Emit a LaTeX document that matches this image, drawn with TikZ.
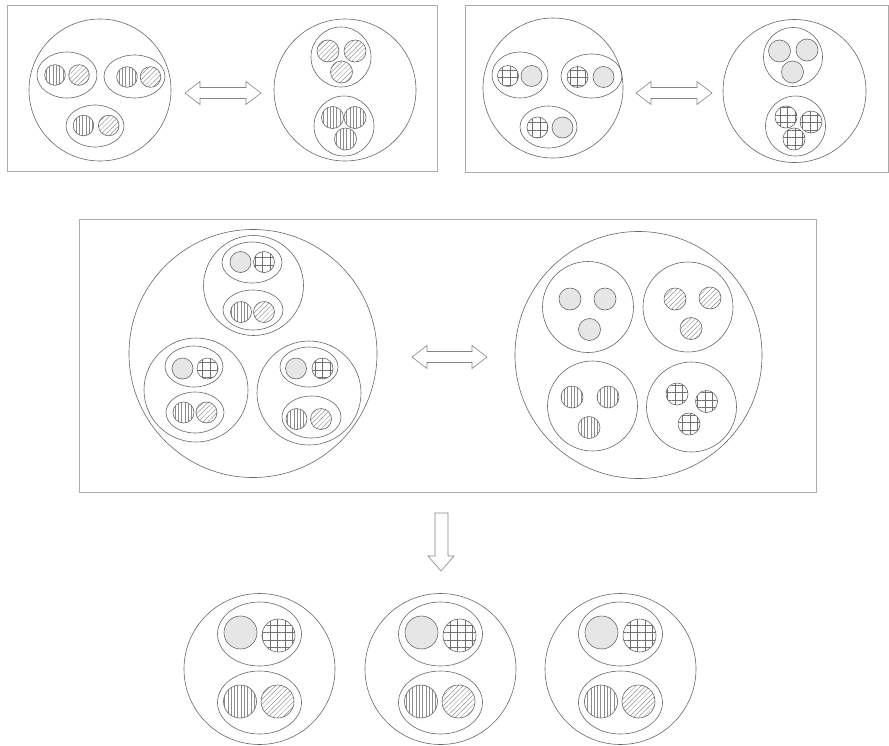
\documentclass[tikz,border=0pt]{standalone}
\usetikzlibrary{patterns.meta}

\definecolor{linecol}{HTML}{666666}
\definecolor{framecol}{HTML}{AAAAAA}
\definecolor{fillgray}{HTML}{E6E6E6}
\definecolor{patcol}{HTML}{707070}

\tikzset{
  ring/.style={draw=linecol, line width=0.6pt},
  frame/.style={draw=framecol, line width=1pt},
  blockarrow/.style={draw=linecol!80, line width=0.6pt, fill=white, line join=miter},
  gry/.style={ring, fill=fillgray},
  vln/.style={ring, pattern={Lines[angle=90, distance=3.3pt, line width=0.3pt]}, pattern color=patcol!80},
  dgl/.style={ring, pattern={Lines[angle=45, distance=3.4pt, line width=0.3pt]}, pattern color=patcol},
  grd/.style={ring, pattern={Hatch[angle=0, distance=7.5pt, line width=0.45pt]}, pattern color=patcol},
}

% double block arrow: x from #1 to #2 at height #3
\newcommand{\dblarrow}[3]{%
  \draw[blockarrow] (#1,#3) -- (#1+15,#3-11.5) -- (#1+15,#3-5.5) -- (#2-15,#3-5.5)
    -- (#2-15,#3-11.5) -- (#2,#3) -- (#2-15,#3+11.5) -- (#2-15,#3+5.5)
    -- (#1+15,#3+5.5) -- (#1+15,#3+11.5) -- cycle;}

\begin{document}
\begin{tikzpicture}[x=1pt, y=-1pt]
  \useasboundingbox (0,0) rectangle (889,745);

  % Верхний левый блок
  \draw[frame] (7,5) rectangle (437,171);
  \draw[ring] (100,90) circle (71);
  \draw[ring] (67,75) ellipse (30 and 23);
  \draw[ring] (134.5,76.5) ellipse (30.5 and 21.5);
  \draw[ring] (95,126) ellipse (29 and 21);
  \foreach \x/\y/\d in {55/75/79, 127/77/150.5, 83.5/125.5/108.7} {
    \draw[vln] (\x,\y) circle (10.3);
    \draw[dgl] (\d,\y) circle (10.3);
  }
  \dblarrow{185}{261}{93}
  \draw[ring] (345,90) circle (71);
  \draw[ring] (341,57) circle (30);
  \draw[ring] (344,126) circle (30);
  \foreach \x/\y in {328/51, 355/51, 341.5/72}
    \draw[dgl] (\x,\y) circle (11);
  \foreach \x/\y in {332.5/117.5, 355/117.5, 345.5/139}
    \draw[vln] (\x,\y) circle (11);

  % Верхний правый блок
  \draw[frame] (465,5) rectangle (888,172);
  \draw[ring] (553,88) circle (70);
  \draw[ring] (520,75) ellipse (28 and 23);
  \draw[ring] (591.5,76) ellipse (30.5 and 22);
  \draw[ring] (548.5,127) ellipse (28.5 and 21);
  \foreach \x/\y/\g in {508/76/531.5, 577.5/77/603.5, 537.5/127.5/562.5} {
    \draw[grd] (\x,\y) circle (10.5);
    \draw[gry] (\g,\y) circle (10.5);
  }
  \dblarrow{636}{712}{93}
  \draw[ring] (794.5,91) circle (71.5);
  \draw[ring] (793,57) circle (29.5);
  \draw[ring] (795.5,126) circle (30);
  \foreach \x/\y in {779.5/51, 807/50, 792.5/72}
    \draw[gry] (\x,\y) circle (11);
  \foreach \x/\y in {786/117, 811/122, 794/139}
    \draw[grd] (\x,\y) circle (11);

  % Средний блок
  \draw[frame] (79,219) rectangle (816,492);
  \draw[ring] (253,353.5) circle (124);
  \draw[ring] (253.5,285.5) circle (50);
  \draw[ring] (196,390) circle (52);
  \draw[ring] (309,393) circle (52);
  \draw[ring] (252,262.5) ellipse (30 and 20.5);
  \draw[ring] (253,310) ellipse (30 and 20);
  \draw[ring] (194,366.5) ellipse (29 and 20.5);
  \draw[ring] (195,412.5) ellipse (29 and 20.5);
  \draw[ring] (309,367) ellipse (29 and 20);
  \draw[ring] (311.5,417) ellipse (29.5 and 21);
  \foreach \x/\y/\d in {240.5/262/264, 182.5/368.5/207.5, 296/368.5/322.5} {
    \draw[gry] (\x,\y) circle (10.5);
    \draw[grd] (\d,\y) circle (10.5);
  }
  \foreach \x/\y/\d in {241/312/264, 183.5/412.5/206.5, 296.5/419/321} {
    \draw[vln] (\x,\y) circle (10.5);
    \draw[dgl] (\d,\y) circle (10.5);
  }
  \dblarrow{412}{487}{357}
  \draw[ring] (638.5,355) circle (123.5);
  \draw[ring] (588,307) circle (45.5);
  \draw[ring] (688,307) circle (45);
  \draw[ring] (592.5,406) circle (45);
  \draw[ring] (691.5,407) circle (45);
  \foreach \x/\y in {570/299, 605/299, 589.5/329.5}
    \draw[gry] (\x,\y) circle (11);
  \foreach \x/\y in {675/299, 710/298, 691/328.5}
    \draw[dgl] (\x,\y) circle (11);
  \foreach \x/\y in {572/397, 608/397, 589/427.5}
    \draw[vln] (\x,\y) circle (11);
  \foreach \x/\y in {677/394, 706.5/401.5, 689/424}
    \draw[grd] (\x,\y) circle (11);

  % Стрелка вниз
  \draw[blockarrow] (435,513) -- (448,513) -- (448,556) -- (454,556) -- (441,571)
    -- (428,556) -- (435,556) -- cycle;

  % Нижний ряд
  \foreach \cx in {259.5,440.5,620.5} {
    \draw[ring] (\cx,669) circle (75.5);
    \draw[ring] (\cx,634) ellipse (42 and 32);
    \draw[ring] (\cx,702.5) ellipse (42 and 31.5);
    \draw[gry] (\cx-19,632.5) circle (16.5);
    \draw[grd] (\cx+19,635.5) circle (16.5);
    \draw[vln] (\cx-19.5,701.5) circle (16.5);
    \draw[dgl] (\cx+18,701.5) circle (16.5);
  }
\end{tikzpicture}
\end{document}
